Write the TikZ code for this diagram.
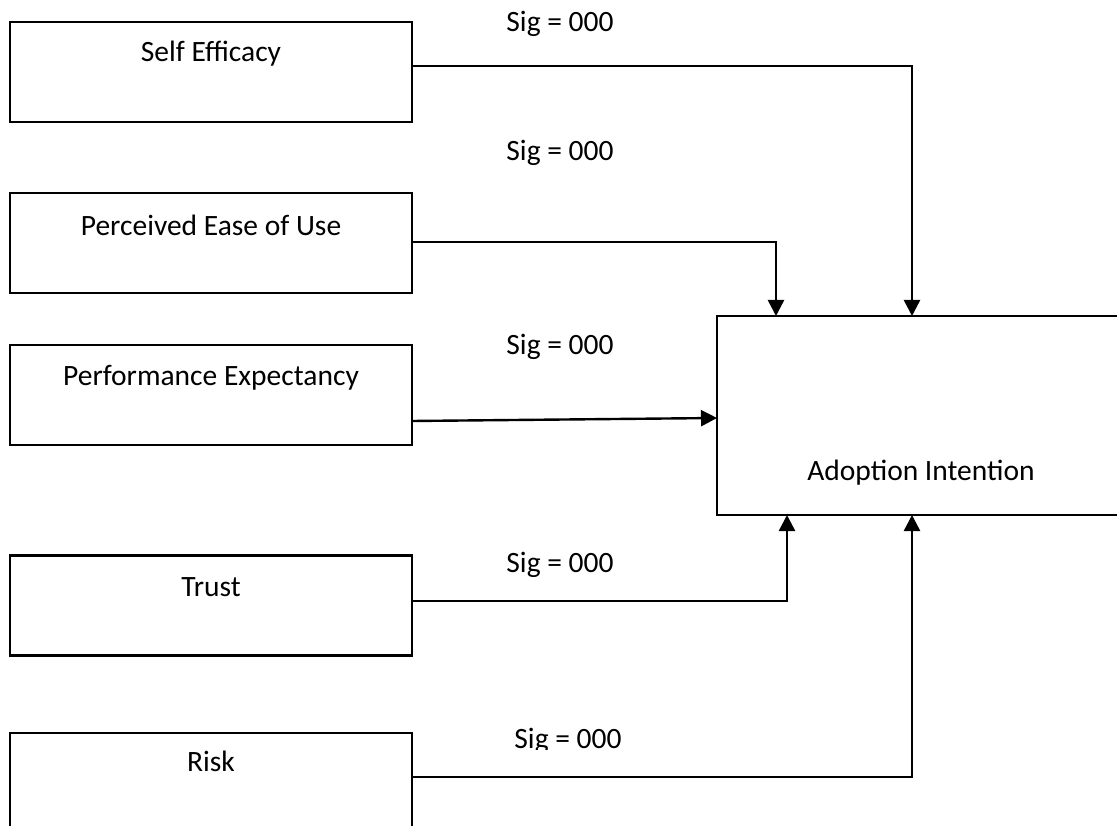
\documentclass[tikz,border=0pt]{standalone}
\usepackage{fontspec}
\setmainfont{Carlito}
\usetikzlibrary{arrows.meta}
\begin{document}
\begin{tikzpicture}[x=1pt,y=-1pt,
  box/.style={draw, line width=2.2pt, minimum width=402pt, minimum height=100pt, inner sep=0pt, outer sep=0pt},
  lbl/.style={font=\fontsize{29.5}{34}\selectfont, inner sep=0pt},
  conn/.style={line width=2.4pt},
  arr/.style={conn, -{Triangle[length=16pt,width=16pt]}}]
\clip (0,0) rectangle (1117,826);
\node[box] (se) at (211,72) {};
\node[box] (peou) at (211,243) {};
\node[box] (pe) at (211,395) {};
\node[box] (tr) at (211,605.5) {};
\node[box] (rk) at (211,783) {};
\node[box, minimum width=440pt, minimum height=199pt, anchor=north west] (ai) at (717,316) {};
\node[lbl] (set) at (211,54) {Self Efficacy};
\node[lbl] (peout) at (211,225) {Perceived Ease of Use};
\node[lbl] (pet) at (211,378) {Performance Expectancy};
\node[lbl] (trt) at (211,587) {Trust};
\node[lbl] (rkt) at (211,761) {Risk};
\node[lbl] (ait) at (921,473) {Adoption Intention};
\node[lbl] (s1) at (560,24) {Sig = 000};
\node[lbl] (s2) at (560,153) {Sig = 000};
\node[lbl] (s3) at (560,347) {Sig = 000};
\node[lbl] (s4) at (560,565) {Sig = 000};
\begin{scope}
\clip (400,720) rectangle (700,749);
\node[lbl] (s5) at (568,741) {Sig = 000};
\end{scope}
\draw[arr] (se.east |- 0,66) -| ([xshift=195pt]ai.north west);
\draw[arr] (peou.east |- 0,242) -| ([xshift=59pt]ai.north west);
\draw[arr] (pe.east |- 0,421) -- (ai.west |- 0,418);
\draw[arr] (tr.east |- 0,601) -| ([xshift=70pt]ai.south west);
\draw[arr] (rk.east |- 0,777) -| ([xshift=195pt]ai.south west);
\end{tikzpicture}
\end{document}
